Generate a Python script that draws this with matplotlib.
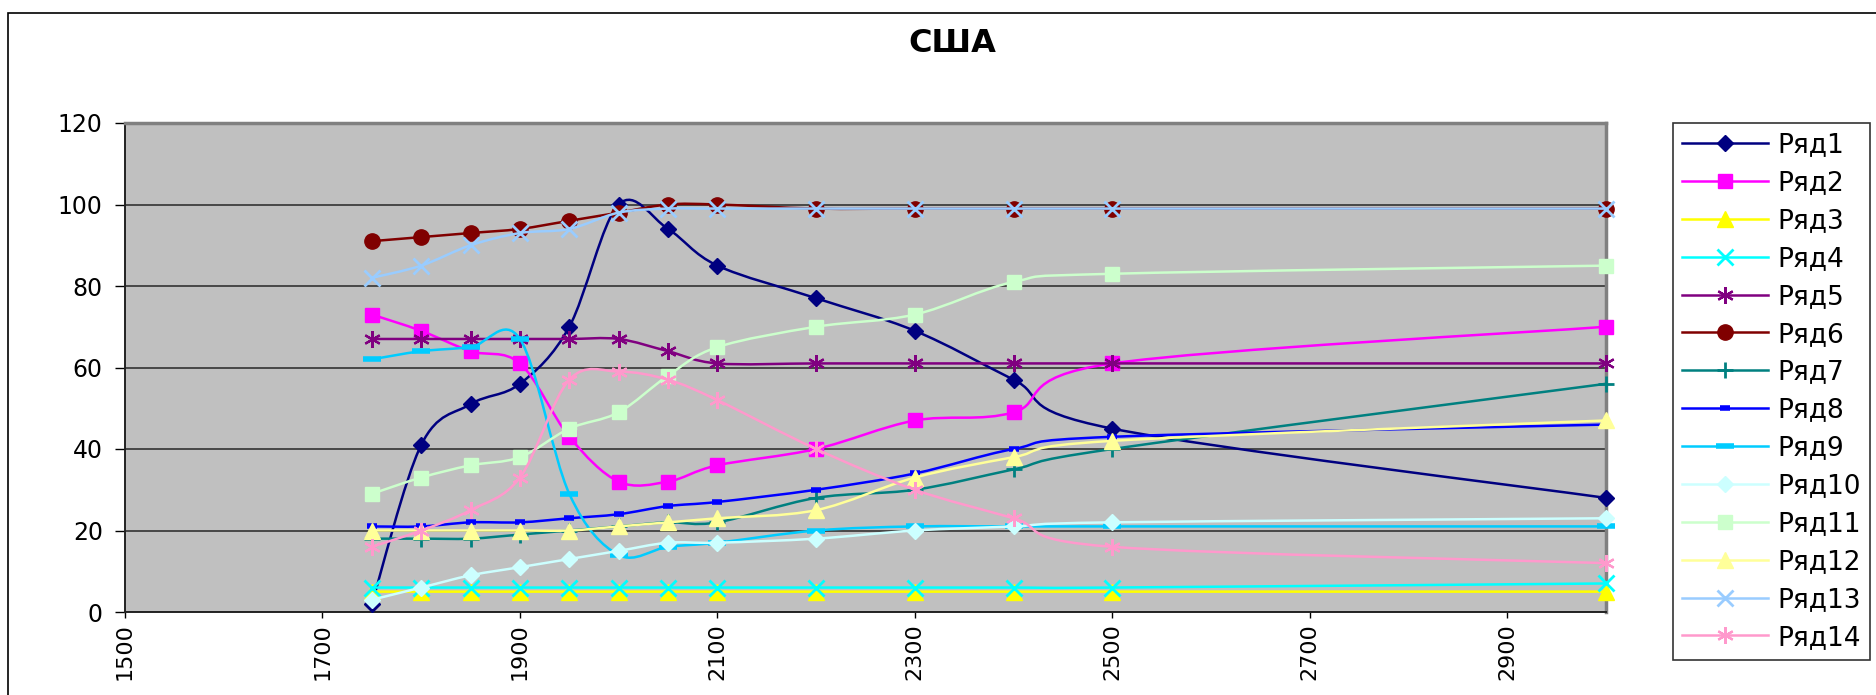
import matplotlib.pyplot as plt
from matplotlib.path import Path
from matplotlib.patches import PathPatch, Rectangle
from matplotlib.lines import Line2D
import numpy as np

plt.rcParams['font.family'] = ['DejaVu Sans']

# data
years = [1750, 1800, 1850, 1900, 1950, 2000, 2050, 2100, 2200, 2300, 2400, 2500, 3000]

r1 = [2, 41, 51, 56, 70, 100, 94, 85, 77, 69, 57, 45, 28]
r2 = [73, 69, 64, 61, 43, 32, 32, 36, 40, 47, 49, 61, 70]
r3 = [5, 5, 5, 5, 5, 5, 5, 5, 5, 5, 5, 5, 5]
r4 = [6, 6, 6, 6, 6, 6, 6, 6, 6, 6, 6, 6, 7]
r5 = [67, 67, 67, 67, 67, 67, 64, 61, 61, 61, 61, 61, 61]
r6 = [91, 92, 93, 94, 96, 98, 100, 100, 99, 99, 99, 99, 99]
r7 = [18, 18, 18, 19, 20, 21, 22, 22, 28, 30, 35, 40, 56]
r8 = [21, 21, 22, 22, 23, 24, 26, 27, 30, 34, 40, 43, 46]
r9 = [62, 64, 65, 67, 29, 14, 16, 17, 20, 21, 21, 21, 21]
r10 = [3, 6, 9, 11, 13, 15, 17, 17, 18, 20, 21, 22, 23]
r11 = [29, 33, 36, 38, 45, 49, 58, 65, 70, 73, 81, 83, 85]
r12 = [20, 20, 20, 20, 20, 21, 22, 23, 25, 33, 38, 42, 47]
r13 = [82, 85, 90, 93, 94, 98, 99, 99, 99, 99, 99, 99, 99]
r14 = [16, 20, 25, 33, 57, 59, 57, 52, 40, 30, 23, 16, 12]

series = [r1, r2, r3, r4, r5, r6, r7, r8, r9, r10, r11, r12, r13, r14]
names = ['Ряд' + str(i + 1) for i in range(len(series))]

colors = ['#000080', '#FF00FF', '#FFFF00', '#00FFFF', '#800080', '#800000', '#008080',
          '#0000FF', '#00CCFF', '#CCFFFF', '#CCFFCC', '#FFFF99', '#99CCFF', '#FF99CC']
asterisk = (6, 2, 0)
markers = ['D', 's', '^', 'x', asterisk, 'o', '+', '_', '_', 'D', 's', '^', 'x', asterisk]
msizes = [8, 10.5, 12, 12, 12, 11, 12, 7, 13, 8, 10.5, 12, 12, 12]
mews = [1, 1, 1, 2, 1.6, 1, 2, 4, 4, 1, 1, 1, 2, 1.6]


def smooth_path(xs, ys):
    # Excel-like smoothed line: cubic Bezier segments through the data points
    pts = np.column_stack([xs, ys]).astype(float)
    n = len(pts)
    verts = [pts[0]]
    codes = [Path.MOVETO]
    for i in range(n - 1):
        p0 = pts[i - 1] if i > 0 else pts[i]
        p1 = pts[i]
        p2 = pts[i + 1]
        p3 = pts[i + 2] if i + 2 < n else pts[i + 1]
        verts += [p1 + (p2 - p0) / 6, p2 - (p3 - p1) / 6, p2]
        codes += [Path.CURVE4] * 3
    return Path(verts, codes)


W, H = 1876, 695
fig = plt.figure(figsize=(W / 100, H / 100), dpi=100)
fig.patch.set_facecolor('white')

# outer chart border (cut off at right and bottom)
fig.patches.append(Rectangle((8 / W, -0.1), 2, 1.1 - 13 / H, transform=fig.transFigure,
                             fill=False, ec='black', lw=1.2))

ax = fig.add_axes([125 / W, 1 - 612 / H, (1606 - 125) / W, (612 - 123) / H])
ax.set_facecolor('#C0C0C0')

handles = []
for i, ys in enumerate(series):
    patch = PathPatch(smooth_path(years, ys), fill=False, ec=colors[i], lw=1.8,
                      zorder=3 + i * 0.1, clip_on=False)
    ax.add_patch(patch)
    ax.plot(years, ys, ls='none', marker=markers[i], ms=msizes[i], mew=mews[i],
            color=colors[i], mec=colors[i], zorder=3.05 + i * 0.1, clip_on=False)
    handles.append(Line2D([], [], color=colors[i], lw=1.8, marker=markers[i],
                          ms=msizes[i], mew=mews[i], mec=colors[i]))

ax.set_xlim(1500, 3000)
ax.set_ylim(0, 120)
ax.set_xticks(range(1500, 3000, 200))
ax.set_yticks(range(0, 121, 20))
ax.tick_params(axis='y', length=7, width=1, pad=9, labelsize=17, colors='black')
ax.tick_params(axis='x', length=4, width=1, pad=4, labelsize=16, labelrotation=90)
ax.yaxis.grid(True, color='#333333', lw=1.2)
ax.set_axisbelow(True)
for s in ['left', 'bottom']:
    ax.spines[s].set_color('#222222')
    ax.spines[s].set_linewidth(1.4)
for s in ['top', 'right']:
    ax.spines[s].set_color('#808080')
    ax.spines[s].set_linewidth(2.5)

fig.text(952 / W, 1 - 44 / H, 'США', ha='center', va='center', fontsize=23,
         fontweight='bold')

leg = ax.legend(handles, names, loc='upper left', bbox_to_anchor=(1673 / W, 1 - 123 / H),
                bbox_transform=fig.transFigure, borderaxespad=0, fontsize=19,
                handlelength=3.25, handletextpad=0.35, labelspacing=0.45,
                borderpad=0.35, frameon=True, fancybox=False, numpoints=1)
leg.get_frame().set_edgecolor('black')
leg.get_frame().set_linewidth(1.2)

fig.savefig('out.png', dpi=100)
